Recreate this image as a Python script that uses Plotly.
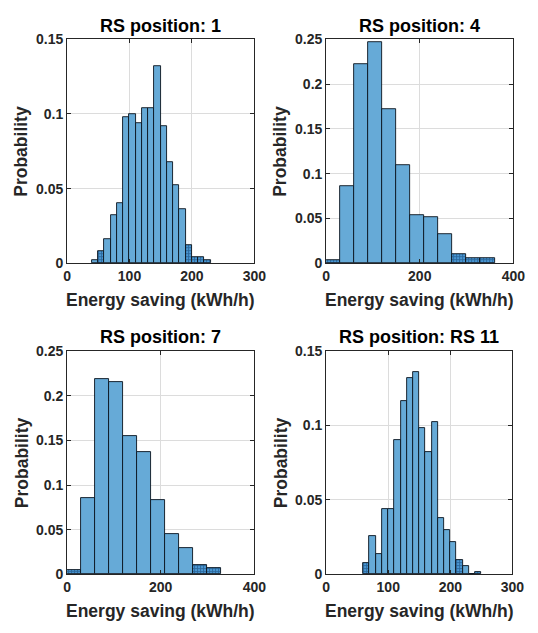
import plotly.graph_objects as go

# Histogram data for each relay-station position
titles = ["RS position: 1", "RS position: 4", "RS position: 7", "RS position: RS 11"]
bin_start = [40, 0, 0, 60]          # kWh/h, left edge of first bin
bin_width = [10, 30, 30, 10]        # kWh/h
prob_pos1 = [0.002, 0.008, 0.016, 0.032, 0.040, 0.098, 0.100, 0.094, 0.104, 0.104,
             0.132, 0.092, 0.068, 0.052, 0.036, 0.012, 0.004, 0.004, 0.002]
prob_pos4 = [0.0036, 0.0858, 0.2222, 0.2465, 0.172, 0.110, 0.0538, 0.0516, 0.0324,
             0.0102, 0.0058, 0.0058]
prob_pos7 = [0.0051, 0.0855, 0.219, 0.215, 0.155, 0.137, 0.0833, 0.0453, 0.029,
             0.0098, 0.0072]
prob_rs11 = [0.0076, 0.026, 0.0138, 0.0439, 0.0439, 0.0902, 0.1164, 0.132, 0.136,
             0.098, 0.0819, 0.102, 0.038, 0.0299, 0.0218, 0.0094, 0.0057, 0.0, 0.0017]
probs = [prob_pos1, prob_pos4, prob_pos7, prob_rs11]
# tail bins (sparse samples) drawn with a cross-hatch
tail_bins = [[1, 15, 16, 17, 18], [0, 9, 10, 11], [0, 9, 10], [0, 15, 18]]

x_max = [300, 400, 400, 300]
y_max = [0.15, 0.25, 0.25, 0.15]
x_ticks = [[0, 100, 200, 300], [0, 200, 400], [0, 200, 400], [0, 100, 200, 300]]
y_ticks_small = [0, 0.05, 0.1, 0.15]
y_ticks_large = [0, 0.05, 0.1, 0.15, 0.2, 0.25]
y_ticks = [y_ticks_small, y_ticks_large, y_ticks_large, y_ticks_small]

xlabel = "Energy saving (kWh/h)"
ylabel = "Probability"

# Page geometry (pixels)
W, H = 538, 633
boxes = [  # left, right, top, bottom
    (65, 258, 32, 262),
    (332, 525, 32, 262),
    (65, 258, 352, 581),
    (332, 524, 352, 581),
]

FILL = "#66aad7"
EDGE = "rgba(10,20,30,0.9)"
TXT = "#262626"
FONT = "Liberation Sans, Arial, sans-serif"


def px_x(v):
    return v / W


def px_y(v):
    return 1 - v / H


def fmt(v):
    return "0" if v == 0 else ("%g" % v)


fig = go.Figure()
annotations = []

for k in range(4):
    n = len(probs[k])
    centers = [bin_start[k] + bin_width[k] * (i + 0.5) for i in range(n)]
    shapes = ["+" if i in tail_bins[k] else "" for i in range(n)]
    xa = "x" if k == 0 else "x%d" % (k + 1)
    ya = "y" if k == 0 else "y%d" % (k + 1)
    fig.add_trace(go.Bar(
        x=centers, y=probs[k], width=bin_width[k],
        xaxis=xa, yaxis=ya,
        marker=dict(
            color=FILL,
            line=dict(color=EDGE, width=1),
            pattern=dict(shape=shapes, fgcolor="#0d3560", bgcolor="#4a98d4",
                         size=3, solidity=0.5),
        ),
        showlegend=False,
        hoverinfo="x+y",
    ))

    l, r, t, b = boxes[k]
    axis_common = dict(
        showline=True, linecolor=TXT, linewidth=1, mirror="ticks",
        ticks="inside", ticklen=4, tickcolor=TXT,
        showgrid=True, gridcolor="#dcdcdc", gridwidth=1,
        zeroline=False,
        tickfont=dict(family=FONT, size=14, color=TXT, weight="bold"),
    )
    xkey = "xaxis" if k == 0 else "xaxis%d" % (k + 1)
    ykey = "yaxis" if k == 0 else "yaxis%d" % (k + 1)
    fig.update_layout(**{
        xkey: dict(axis_common, domain=[px_x(l), px_x(r)], range=[0, x_max[k]],
                   tickvals=x_ticks[k], ticktext=[fmt(v) for v in x_ticks[k]],
                   anchor=ya),
        ykey: dict(axis_common, domain=[px_y(b), px_y(t)], range=[0, y_max[k]],
                   tickvals=y_ticks[k], ticktext=[fmt(v) for v in y_ticks[k]],
                   anchor=xa),
    })

    cx = (l + r) / 2
    annotations.append(dict(
        text=titles[k], x=px_x(cx), y=px_y(t - 14), xref="paper", yref="paper",
        xanchor="center", yanchor="middle", showarrow=False,
        font=dict(family=FONT, size=18, color="black", weight="bold"),
    ))
    annotations.append(dict(
        text=xlabel, x=px_x(cx), y=px_y(b + 38), xref="paper", yref="paper",
        xanchor="center", yanchor="middle", showarrow=False,
        font=dict(family=FONT, size=17.5, color=TXT, weight="bold"),
    ))
    annotations.append(dict(
        text=ylabel, x=px_x(l - 47), y=px_y((t + b) / 2), xref="paper", yref="paper",
        xanchor="center", yanchor="middle", showarrow=False, textangle=-90,
        font=dict(family=FONT, size=17.5, color=TXT, weight="bold"),
    ))

fig.update_layout(
    width=W, height=H,
    margin=dict(l=0, r=0, t=0, b=0),
    paper_bgcolor="white", plot_bgcolor="white",
    bargap=0,
    annotations=annotations,
)

fig.write_html("out.html")
